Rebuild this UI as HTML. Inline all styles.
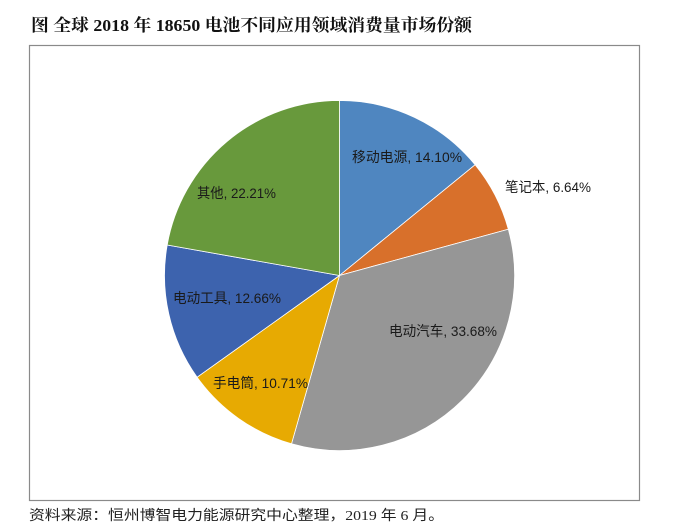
<!DOCTYPE html>
<html>
<head>
<meta charset="utf-8">
<style>
  html,body{margin:0;padding:0;background:#fff;}
  svg{display:block;}
</style>
</head>
<body>
<svg width="688" height="528" viewBox="0 0 688 528" xmlns="http://www.w3.org/2000/svg">
  <rect x="0" y="0" width="688" height="528" fill="#ffffff"/>
  <text x="31" y="31" font-family="'Liberation Serif','Noto Serif CJK SC',serif" font-weight="bold" font-size="17" fill="#111" textLength="441" lengthAdjust="spacingAndGlyphs">图 全球 2018 年 18650 电池不同应用领域消费量市场份额</text>
  <rect x="29.5" y="45.5" width="610" height="455" fill="#fff" stroke="#8a8a8a" stroke-width="1.2"/>
  <g stroke="#ffffff" stroke-width="0.8" stroke-linejoin="round">
    <path d="M339.5,275.5 L339.5,100.5 A175,175 0 0 1 475.1,164.8 Z" fill="#4F86C0"/>
    <path d="M339.5,275.5 L475.1,164.8 A175,175 0 0 1 508.3,229.2 Z" fill="#D8702B"/>
    <path d="M339.5,275.5 L508.3,229.2 A175,175 0 0 1 291.5,443.8 Z" fill="#969696"/>
    <path d="M339.5,275.5 L291.5,443.8 A175,175 0 0 1 197.1,377.2 Z" fill="#E7AA02"/>
    <path d="M339.5,275.5 L197.1,377.2 A175,175 0 0 1 167.2,245.0 Z" fill="#3D63AE"/>
    <path d="M339.5,275.5 L167.2,245.0 A175,175 0 0 1 339.5,100.5 Z" fill="#68993C"/>
  </g>
  <g font-family="'Liberation Sans','Noto Sans CJK SC',sans-serif" font-size="14" fill="#1a1a1a">
    <text x="352" y="162" textLength="110" lengthAdjust="spacingAndGlyphs">移动电源, 14.10%</text>
    <text x="505" y="192" textLength="86" lengthAdjust="spacingAndGlyphs">笔记本, 6.64%</text>
    <text x="389" y="336" textLength="108" lengthAdjust="spacingAndGlyphs">电动汽车, 33.68%</text>
    <text x="213" y="388" textLength="95" lengthAdjust="spacingAndGlyphs">手电筒, 10.71%</text>
    <text x="173" y="303" textLength="108" lengthAdjust="spacingAndGlyphs">电动工具, 12.66%</text>
    <text x="197" y="198" textLength="79" lengthAdjust="spacingAndGlyphs">其他, 22.21%</text>
  </g>
  <text x="29" y="520" font-family="'Liberation Serif','Noto Sans CJK SC',sans-serif" font-size="14" fill="#222" textLength="415" lengthAdjust="spacingAndGlyphs">资料来源：恒州博智电力能源研究中心整理，2019 年 6 月。</text>
</svg>
</body>
</html>
